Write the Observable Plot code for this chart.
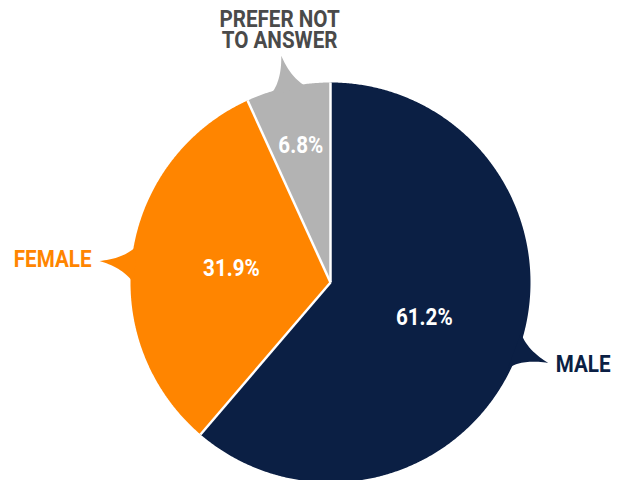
<!DOCTYPE html>
<html>
<head>
<meta charset="utf-8">
<script src="https://cdn.jsdelivr.net/npm/d3@7"></script>
<script src="https://cdn.jsdelivr.net/npm/@observablehq/plot@0.6"></script>
<style>
  html, body { margin: 0; padding: 0; background: #fff; }
  #chart svg { display: block; }
</style>
</head>
<body>
<div id="chart"></div>
<script>
const categories = ["Male", "Female", "Prefer not to answer"];
const shares = [61.2, 31.9, 6.8];
const calloutLabels = ["MALE", "FEMALE", "PREFER NOT\nTO ANSWER"];
const sliceColors = ["#0b1f44", "#ff8500", "#b3b3b3"];
const labelColors = ["#0b1f44", "#ff8500", "#4a4a4a"];

// layout tweak: female callout sits slightly closer to horizontal
const calloutAngleOffsetDeg = {"Female": -2.7};

const total = d3.sum(shares);
const arcs = d3.pie().sort(null).value(d => d)(shares);
const pt = (a, r) => ({x: r * Math.sin(a), y: r * Math.cos(a)});
const rad = Math.PI / 180;

// slice polygons
const slicePts = [];
arcs.forEach((a, i) => {
  const cat = categories[i];
  slicePts.push({...pt(0, 0), cat});
  const n = Math.max(4, Math.ceil((a.endAngle - a.startAngle) / (0.4 * rad)));
  for (let k = 0; k <= n; k++) {
    const ang = a.startAngle + (a.endAngle - a.startAngle) * k / n;
    slicePts.push({...pt(ang, 1), cat});
  }
});

const calloutAngle = (a, i) =>
  (a.startAngle + a.endAngle) / 2 + (calloutAngleOffsetDeg[categories[i]] || 0) * rad;

// callout pointers (concave wedges)
const quad = (p0, c, p1, t) => ({
  x: (1 - t) * (1 - t) * p0.x + 2 * (1 - t) * t * c.x + t * t * p1.x,
  y: (1 - t) * (1 - t) * p0.y + 2 * (1 - t) * t * c.y + t * t * p1.y
});
const wedgePts = [];
arcs.forEach((a, i) => {
  const cat = categories[i];
  const m = calloutAngle(a, i);
  const h = 5.5 * rad;
  const b0 = pt(m - h, 0.985), b1 = pt(m + h, 0.985), tip = pt(m, 1.16);
  const c0 = pt(m - h * 0.25, 1.035), c1 = pt(m + h * 0.25, 1.035);
  for (let k = 0; k <= 20; k++) wedgePts.push({...quad(b0, c0, tip, k / 20), cat});
  for (let k = 1; k <= 20; k++) wedgePts.push({...quad(tip, c1, b1, k / 20), cat});
});

// separators
const seps = arcs.map(a => ({x1: 0, y1: 0, x2: pt(a.startAngle, 1).x, y2: pt(a.startAngle, 1).y}));

// percentage labels
const pctLabels = arcs.map((a, i) => {
  const m = (a.startAngle + a.endAngle) / 2;
  const r = shares[i] / total < 0.1 ? 0.7 : 0.5;
  return {...pt(m, r), text: shares[i].toFixed(1) + "%"};
});

// outer labels
const outer = arcs.map((a, i) => {
  const m = calloutAngle(a, i);
  const p = pt(m, 1.2);
  const s = Math.sin(m);
  const anchor = s > 0.4 ? "start" : s < -0.4 ? "end" : "middle";
  return {...p, text: calloutLabels[i], color: labelColors[i], anchor};
});

const font = {fontFamily: "Roboto, 'Noto Sans', sans-serif", fontWeight: 700, fontSize: 24};

const chart = Plot.plot({
  width: 619,
  height: 480,
  margin: 0,
  x: {domain: [-1.65, 1.445], axis: null},
  y: {domain: [-0.99, 1.41], axis: null},
  color: {domain: categories, range: sliceColors},
  marks: [
    Plot.line(slicePts, {x: "x", y: "y", z: "cat", fill: "cat", stroke: "none"}),
    Plot.line(wedgePts, {x: "x", y: "y", z: "cat", fill: "cat", stroke: "none"}),
    Plot.link(seps, {x1: "x1", y1: "y1", x2: "x2", y2: "y2", stroke: "white", strokeWidth: 2.5}),
    Plot.text(pctLabels, {x: "x", y: "y", text: "text", fill: "white", ...font}),
    ...outer.map(d => Plot.text([d], {
      x: "x", y: "y", text: "text", fill: d.color,
      textAnchor: d.anchor, lineAnchor: d.anchor === "middle" ? "bottom" : "middle",
      lineHeight: 0.88, ...font
    }))
  ]
});

// condense glyphs horizontally (reference uses a condensed bold face)
chart.querySelectorAll("text").forEach(t => {
  const tr = t.getAttribute("transform");
  if (tr) {
    t.setAttribute("transform", tr + " scale(0.86,1)");
  } else {
    const x = +(t.getAttribute("x") || 0), y = +(t.getAttribute("y") || 0);
    t.setAttribute("transform", `translate(${x},${y}) scale(0.86,1) translate(${-x},${-y})`);
  }
});
document.getElementById("chart").appendChild(chart);
</script>
</body>
</html>
